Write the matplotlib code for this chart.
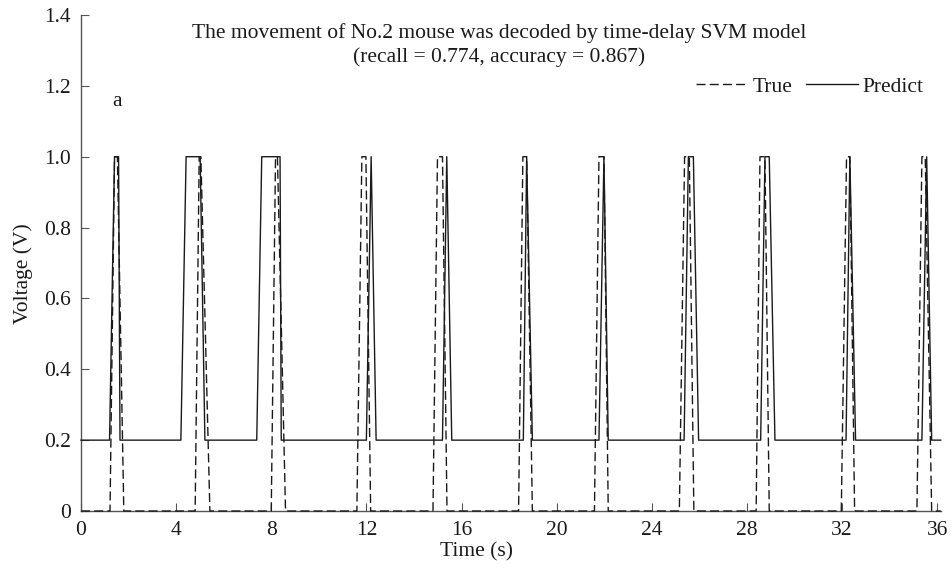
import matplotlib
matplotlib.use("Agg")
import matplotlib.pyplot as plt
import numpy as np

# ---- data (times in s, voltages in V) ----
true_low, pred_low, high = 0.0, 0.2, 1.0
t_end = 36.15

true_rise_start = [1.22, 4.80, 8.00, 11.60, 14.80, 18.40, 21.59, 25.16, 28.39, 31.97, 35.15]
true_rise_end   = [1.41, 4.97, 8.18, 11.81, 14.99, 18.58, 21.78, 25.38, 28.55, 32.19, 35.36]
true_fall_start = [1.53, 5.04, 8.26, 11.98, 15.20, 18.74, 21.99, 25.58, 28.76, 32.33, 35.50]
true_fall_end   = [1.80, 5.42, 8.60, 12.18, 15.39, 18.98, 22.17, 25.77, 28.94, 32.53, 35.77]

pred_rise_start = [1.20, 4.20, 7.39, 12.00, 15.20, 18.60, 21.78, 25.36, 28.58, 32.17, 35.36]
pred_rise_end   = [1.41, 4.42, 7.60, 12.20, 15.38, 18.74, 21.99, 25.54, 28.76, 32.33, 35.56]
pred_fall_start = [1.58, 5.01, 8.37, 12.20, 15.38, 18.74, 21.99, 25.75, 28.94, 32.33, 35.56]
pred_fall_end   = [1.64, 5.21, 8.42, 12.41, 15.59, 18.98, 22.17, 25.97, 29.18, 32.57, 35.77]

x_ticks = [0, 4, 8, 12, 16, 20, 24, 28, 32, 36]
y_ticks = [0, 0.2, 0.4, 0.6, 0.8, 1.0, 1.2, 1.4]
y_tick_labels = ["0", "0.2", "0.4", "0.6", "0.8", "1.0", "1.2", "1.4"]

title_text = "The movement of No.2 mouse was decoded by time-delay SVM model\n(recall = 0.774, accuracy = 0.867)"


def build(rs, re, fs, fe, low):
    xs, ys = [0.0], [low]
    for a, b, c, d in zip(rs, re, fs, fe):
        xs += [a, b, c, d]
        ys += [low, high, high, low]
    xs.append(t_end)
    ys.append(low)
    return np.array(xs), np.array(ys)


tx, ty = build(true_rise_start, true_rise_end, true_fall_start, true_fall_end, true_low)
px, py = build(pred_rise_start, pred_rise_end, pred_fall_start, pred_fall_end, pred_low)

FS = 15.5
plt.rcParams['font.family'] = ['Liberation Serif', 'DejaVu Serif']
plt.rcParams['font.size'] = FS

fig = plt.figure(figsize=(9.52, 5.69), dpi=100)
ax = fig.add_axes([81 / 952, 1 - 511 / 569, (940.7 - 81) / 952, (511 - 15) / 569])

line_col = '#1a1a1a'
ax.plot(tx, ty, color=line_col, lw=1.0, linestyle=(0, (6.5, 3)), label='True', clip_on=False, zorder=3)
ax.plot(px, py, color=line_col, lw=1.0, linestyle='-', label='Predict', clip_on=False, zorder=3)

ax.set_xlim(0, t_end)
ax.set_ylim(0, 1.4)
ax.set_xticks(x_ticks)
ax.set_yticks(y_ticks)
ax.set_yticklabels(y_tick_labels)

for s in ['top', 'right']:
    ax.spines[s].set_visible(False)
for s in ['left', 'bottom']:
    ax.spines[s].set_color('#555555')
    ax.spines[s].set_linewidth(1.0)

ax.tick_params(direction='in', length=6, width=0.8, color='#555555', pad=7, labelsize=FS,
               labelcolor='#1a1a1a')

ax.set_xlabel('Time (s)', fontsize=FS, color='#1a1a1a')
ax.set_ylabel('Voltage (V)', fontsize=FS, color='#1a1a1a')
ax.xaxis.set_label_coords(0.46, -0.062)
ax.yaxis.set_label_coords(-0.056, 0.478)

ax.text(17.6, 1.315, title_text, ha='center', va='center', fontsize=FS, color='#1a1a1a',
        linespacing=1.32)
ax.text(1.5, 1.157, 'a', ha='center', va='center', fontsize=FS, color='#1a1a1a')

ax.legend(loc='center left', bbox_to_anchor=(0.7154, 0.855), frameon=False, ncol=2,
          handlelength=2.4, handletextpad=0.25, columnspacing=0.6, borderpad=0,
          borderaxespad=0, fontsize=FS, labelcolor='#1a1a1a')

fig.savefig('out.png', dpi=100)
